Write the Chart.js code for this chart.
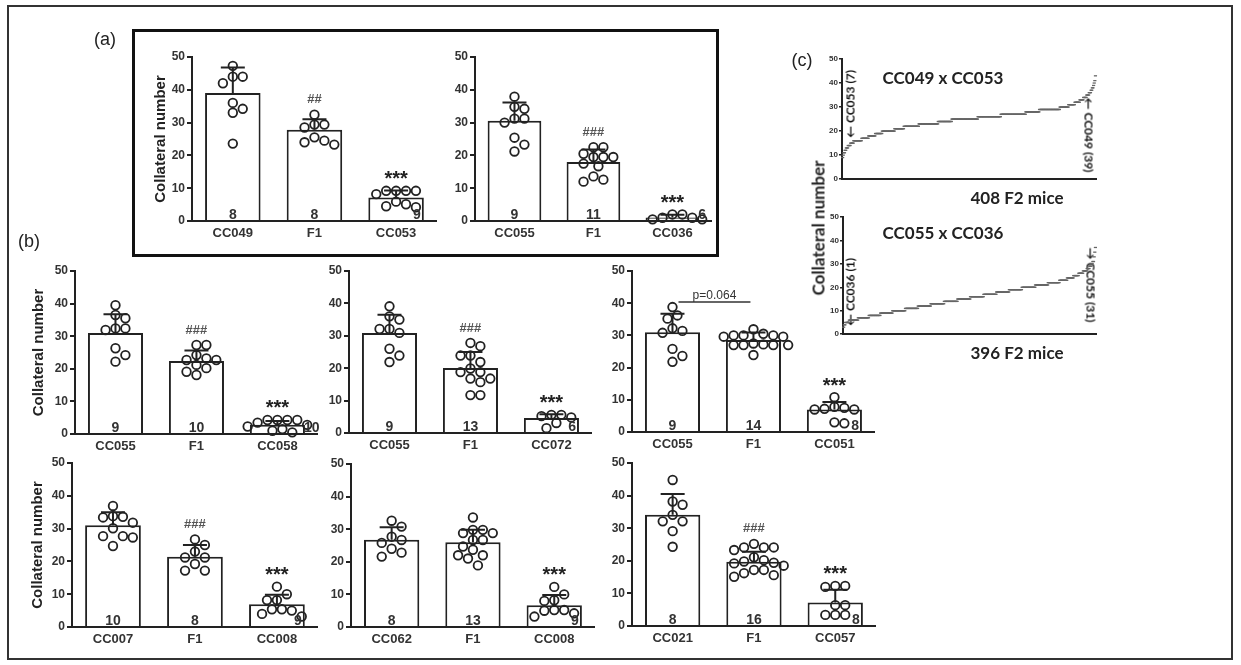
<!DOCTYPE html>
<html>
<head>
<meta charset="utf-8">
<title>Collateral number</title>
<script src="https://cdn.jsdelivr.net/npm/chart.js@4.4.1/dist/chart.umd.min.js"></script>
<style>
  html, body { margin: 0; padding: 0; background: #fff; }
  body { width: 1241px; height: 665px; position: relative; overflow: hidden; font-family: 'Liberation Sans', Arial, sans-serif; }
  .frame { position: absolute; left: 7px; top: 5px; width: 1226px; height: 655px; border: 2px solid #333; box-sizing: border-box; }
  .boxA { position: absolute; left: 132px; top: 29px; width: 587px; height: 228px; border: 3px solid #111; box-sizing: border-box; }
  .txt { position: absolute; white-space: nowrap; color: #222; transform: translate(-50%, -50%); will-change: transform; }
  .panel { font-size: 18px; }
  .calibri { font-family: Lato, 'Open Sans', sans-serif; font-weight: bold; }
</style>
</head>
<body>
<div class="frame"></div>
<div class="boxA"></div>

<div class="txt panel" style="left:105px;top:39px">(a)</div>
<div class="txt panel" style="left:29px;top:241px">(b)</div>
<div class="txt panel" style="left:802px;top:60px">(c)</div>

<div class="txt calibri" style="left:943px;top:77px;font-size:17px">CC049 x CC053</div>
<div class="txt calibri" style="left:1017px;top:197px;font-size:17px">408 F2 mice</div>
<div class="txt calibri" style="left:943px;top:232px;font-size:17px">CC055 x CC036</div>
<div class="txt calibri" style="left:1017px;top:352px;font-size:17px">396 F2 mice</div>
<div class="txt calibri" style="left:818px;top:228px;font-size:17px;transform:translate(-50%,-50%) rotate(-90deg)">Collateral number</div>
<div class="txt calibri" style="left:850px;top:104px;font-size:12px;color:#111;transform:translate(-50%,-50%) rotate(-90deg)">&larr; CC053 (7)</div>
<div class="txt calibri" style="left:1089px;top:135px;font-size:12px;color:#111;transform:translate(-50%,-50%) rotate(90deg)">&larr; CC049 (39)</div>
<div class="txt calibri" style="left:850px;top:292px;font-size:12px;color:#111;transform:translate(-50%,-50%) rotate(-90deg)">&larr; CC036 (1)</div>
<div class="txt calibri" style="left:1091px;top:285px;font-size:12px;color:#111;transform:translate(-50%,-50%) rotate(90deg)">&rarr; CC055 (31)</div>

<script>
// ---- (a) CC049 x CC053 parents and F1 ----
const a1Labels = ['CC049', 'F1', 'CC053'];
const a1Means = [39, 27.8, 7.2];
const a1SdTop = [46.8, 31, 9.3];
const a1N = [8, 8, 9];
const a1Marks = ['', '##', '***'];
const a1Points = [
  [47.3, 44, 44, 42, 36, 34.2, 33, 23.6],
  [32.4, 29.4, 28.5, 29.4, 24.5, 23.3, 24, 25.5],
  [9.2, 9.2, 8.2, 9.2, 9.2, 5.9, 4.2, 4.5, 5.1]
];

// ---- (a) CC055 x CC036 ----
const a2Labels = ['CC055', 'F1', 'CC036'];
const a2Means = [30.6, 18, 1.1];
const a2SdTop = [36.1, 21.8, 1.9];
const a2N = [9, 11, 6];
const a2Marks = ['', '###', '***'];
const a2Points = [
  [37.9, 34.8, 34.2, 31.2, 30, 31.2, 25.4, 23.3, 21.2],
  [22.5, 22.5, 20.5, 19.5, 19.5, 19.5, 17.5, 16.7, 13.6, 12, 12.6],
  [2, 1, 0.5, 2, 0.5, 1]
];

// ---- (b) top row ----
const b1Labels = ['CC055', 'F1', 'CC058'];
const b1Means = [31, 22.4, 2.8];
const b1SdTop = [36.7, 25.6, 4];
const b1N = [9, 10, 10];
const b1Marks = ['', '###', '***'];
const b1Points = [
  [39.5, 36.5, 35.5, 32.4, 31.9, 32.4, 26.3, 24.2, 22.2],
  [27.3, 27.3, 24.2, 22.7, 22.7, 23.2, 21.2, 20.2, 19.1, 18.1],
  [4.3, 4.3, 4.3, 4.3, 3.5, 2.8, 2.3, 1.5, 1, 0.5]
];

const b2Labels = ['CC055', 'F1', 'CC072'];
const b2Means = [30.9, 20.1, 4.6];
const b2SdTop = [36.5, 25, 5.8];
const b2N = [9, 13, 6];
const b2Marks = ['', '###', '***'];
const b2Points = [
  [39.1, 36, 35, 32.1, 30.9, 32.1, 26, 23.9, 21.9],
  [27.8, 26.8, 23.9, 23.9, 21.9, 19.9, 18.8, 18.8, 16.8, 15.7, 16.8, 11.7, 11.7],
  [5.6, 5.6, 5.2, 4.8, 3.1, 1.5]
];

const b3Labels = ['CC055', 'F1', 'CC051'];
const b3Means = [31, 28.6, 7];
const b3SdTop = [36.7, 30.9, 9.3];
const b3N = [9, 14, 8];
const b3Marks = ['', '', '***'];
const b3Points = [
  [38.8, 36.2, 35.2, 32.2, 31.4, 30.8, 25.8, 23.6, 21.8],
  [31.9, 30.5, 30, 29.6, 30, 29.6, 30, 27, 27, 27.5, 27, 27, 27.2, 23.9],
  [10.8, 7.2, 7, 7, 7.5, 7.8, 3, 2.7]
];
const b3Compare = [0, 1];
const b3CompareText = 'p=0.064';

// ---- (b) bottom row ----
const b4Labels = ['CC007', 'F1', 'CC008'];
const b4Means = [31, 21.4, 6.9];
const b4SdTop = [35, 25, 9.8];
const b4N = [10, 8, 9];
const b4Marks = ['', '###', '***'];
const b4Points = [
  [36.9, 33.8, 33.6, 33.4, 31.8, 30.1, 27.7, 27.3, 27.7, 24.7],
  [26.7, 25, 23, 21.2, 21.2, 19.2, 17.2, 17.2],
  [12.3, 10, 8.2, 8.2, 5.4, 5, 5.4, 3.2, 4]
];

const b5Labels = ['CC062', 'F1', 'CC008'];
const b5Means = [26.8, 26, 6.7];
const b5SdTop = [30.6, 29.8, 9.8];
const b5N = [8, 13, 9];
const b5Marks = ['', '', '***'];
const b5Points = [
  [32.6, 30.8, 27.7, 26.7, 25.8, 24, 22.8, 21.6],
  [33.6, 29.8, 28.8, 28.8, 29.8, 26.7, 26.7, 24.7, 23.7, 22, 21, 22, 18.9],
  [12.3, 10, 8.2, 8, 5.2, 5, 5.2, 3.2, 4.2]
];

const b6Labels = ['CC021', 'F1', 'CC057'];
const b6Means = [34.1, 19.7, 7.2];
const b6SdTop = [40.5, 22.8, 11.1];
const b6N = [8, 16, 8];
const b6Marks = ['', '###', '***'];
const b6Points = [
  [44.8, 38.2, 37.2, 34.1, 32.1, 32.1, 29.1, 24.3],
  [24.1, 24.1, 25.2, 24.1, 23.3, 20.2, 19.4, 19.2, 21.1, 18.5, 17.2, 16.2, 15.1, 15.6, 17.2, 19.8],
  [12.3, 12, 12.3, 6.4, 6.4, 3.4, 3.4, 3.4]
];

// ---- (c) F2 mice, sorted: collateral level and number of mice at it ----
const c1Levels = [9, 10, 11, 12, 13, 14, 15, 16, 17, 18, 19, 20, 21, 22, 23, 24, 25, 26, 27, 28, 29, 30, 31, 32, 33, 34, 35, 36, 37, 38, 39, 40, 41, 43];
const c1Counts = [1, 1, 2, 2, 3, 4, 5, 13, 11, 11, 11, 20, 15, 24, 31, 22, 42, 37, 40, 22, 33, 14, 10, 8, 6, 5, 4, 3, 2, 2, 1, 1, 1, 1];
const c2Levels = [3, 4, 5, 6, 7, 8, 9, 10, 11, 12, 13, 14, 15, 16, 17, 18, 19, 20, 21, 22, 23, 24, 25, 26, 27, 28, 29, 30, 31, 33, 35, 37];
const c2Counts = [1, 2, 6, 14, 17, 18, 19, 20, 20, 20, 21, 21, 20, 21, 20, 20, 20, 21, 20, 18, 12, 10, 8, 7, 6, 4, 3, 2, 2, 1, 1, 1];

// where each plot sits on the page (axis origin, axis end, y at 50 and at 0)
const frames = {
  a1: { axisX: 192, axisEnd: 439, y50: 57, y0: 221, titleX: 161 },
  a2: { axisX: 475, axisEnd: 714, y50: 57, y0: 221 },
  b1: { axisX: 75, axisEnd: 320, y50: 271, y0: 434, titleX: 39 },
  b2: { axisX: 349, axisEnd: 594, y50: 271, y0: 433 },
  b3: { axisX: 632, axisEnd: 877, y50: 271, y0: 432 },
  b4: { axisX: 72, axisEnd: 320, y50: 463, y0: 627, titleX: 38 },
  b5: { axisX: 351, axisEnd: 597, y50: 464, y0: 627 },
  b6: { axisX: 632, axisEnd: 878, y50: 463, y0: 626 },
  c1: { axisX: 842, axisEnd: 1100, y50: 59, y0: 182 },
  c2: { axisX: 843, axisEnd: 1100, y50: 217, y0: 337 }
};

const FONT = "'Liberation Sans', Arial, Helvetica, sans-serif";
Chart.defaults.font.family = FONT;
Chart.defaults.color = '#333';

const extras = {};

function addCanvas(id, left, top, w, h) {
  const c = document.createElement('canvas');
  c.id = id;
  c.width = w;
  c.height = h;
  c.style.cssText = `position:absolute;left:${left}px;top:${top}px;width:${w}px;height:${h}px`;
  document.body.appendChild(c);
  return c;
}

// spread dots sideways so they do not overlap (pixel space)
function swarm(vals, pxPerUnit, step, minDist) {
  const placed = [];
  const off = new Array(vals.length).fill(0);
  const order = vals.map((v, i) => i).sort((a, b) => vals[b] - vals[a]);
  order.forEach(i => {
    const py = vals[i] * pxPerUnit;
    for (let k = 0; k < 30; k++) {
      const dx = k === 0 ? 0 : (k % 2 ? 1 : -1) * Math.ceil(k / 2) * step;
      if (placed.every(p => Math.hypot(p.x - dx, p.y - py) >= minDist)) {
        off[i] = dx;
        placed.push({ x: dx, y: py });
        break;
      }
    }
  });
  return off;
}

// error bars, n labels, significance marks
const barExtras = {
  id: 'barExtras',
  afterDatasetDraw(chart, args) {
    const g = extras[chart.canvas.id];
    if (!g || args.index !== 0) return;
    const { ctx } = chart;
    const x = chart.scales.x, y = chart.scales.y;
    ctx.save();
    ctx.strokeStyle = '#222';
    ctx.lineWidth = 2;
    g.sdTop.forEach((t, i) => {
      const cx = x.getPixelForValue(i);
      const yt = y.getPixelForValue(t);
      ctx.beginPath();
      ctx.moveTo(cx, y.getPixelForValue(g.means[i]));
      ctx.lineTo(cx, yt);
      ctx.moveTo(cx - 12, yt);
      ctx.lineTo(cx + 12, yt);
      ctx.stroke();
    });
    ctx.restore();
  },
  afterDatasetsDraw(chart) {
    const g = extras[chart.canvas.id];
    if (!g) return;
    const { ctx } = chart;
    const x = chart.scales.x, y = chart.scales.y;
    const bars = chart.getDatasetMeta(0).data;
    const y0 = y.getPixelForValue(0);
    ctx.save();
    ctx.fillStyle = '#333';
    ctx.font = 'bold 14px ' + FONT;
    ctx.textBaseline = 'alphabetic';
    g.n.forEach((n, i) => {
      const b = bars[i];
      const right = b.x + b.width / 2;
      if (g.means[i] < 4) {
        ctx.textAlign = 'left';
        ctx.fillText(n, right - 1, y0 - 2);
      } else if (g.means[i] < 12) {
        ctx.textAlign = 'right';
        ctx.fillText(n, right - 3, y0 - 2);
      } else {
        ctx.textAlign = 'center';
        ctx.fillText(n, b.x, y0 - 2);
      }
    });
    ctx.textAlign = 'center';
    ctx.textBaseline = 'middle';
    g.marks.forEach((m, i) => {
      if (!m) return;
      const top = y.getPixelForValue(Math.max(...g.points[i], g.sdTop[i])) - 15;
      if (m[0] === '*') {
        ctx.font = 'bold 20px ' + FONT;
        ctx.fillStyle = '#222';
        ctx.fillText(m, x.getPixelForValue(i), top + 4);
      } else {
        ctx.font = 'bold 13px ' + FONT;
        ctx.fillStyle = '#555';
        ctx.fillText(m, x.getPixelForValue(i), top);
      }
    });
    if (g.compare) {
      const [i0, i1] = g.compare;
      const ly = Math.min(...g.compare.map(i => y.getPixelForValue(Math.max(...g.points[i])))) - 5;
      const xa = x.getPixelForValue(i0) + 6, xb = x.getPixelForValue(i1) - 3;
      ctx.strokeStyle = '#333';
      ctx.lineWidth = 1.5;
      ctx.beginPath();
      ctx.moveTo(xa, ly);
      ctx.lineTo(xb, ly);
      ctx.stroke();
      ctx.font = '12px ' + FONT;
      ctx.fillStyle = '#333';
      ctx.textBaseline = 'alphabetic';
      ctx.fillText(g.compareText, (xa + xb) / 2, ly - 3);
    }
    ctx.restore();
  }
};

function makeBarChart(id, labels, means, sdTop, points, n, marks, compare, compareText) {
  const f = frames[id];
  const padTop = 10, xH = 24;
  const left = f.titleX ? f.titleX - 13 : f.axisX - 34;
  const top = f.y50 - padTop;
  const w = f.axisEnd - left + 4;
  const h = f.y0 - f.y50 + padTop + xH;
  const cv = addCanvas(id, left, top, w, h);

  const pxPerUnit = (f.y0 - f.y50) / 50;
  const catW = (f.axisEnd - f.axisX) / 3;
  const dots = [];
  points.forEach((vals, gi) => {
    const off = swarm(vals, pxPerUnit, 5, 9.5);
    vals.forEach((v, k) => dots.push({ x: gi + off[k] / catW, y: v }));
  });
  extras[id] = { means, sdTop, points, n, marks, compare, compareText };

  new Chart(cv, {
    type: 'bar',
    data: {
      labels: labels,
      datasets: [
        {
          type: 'bar',
          data: means,
          xAxisID: 'x',
          yAxisID: 'y',
          order: 1,
          grouped: false,
          backgroundColor: '#fff',
          borderColor: '#222',
          borderWidth: 2,
          categoryPercentage: 1,
          barPercentage: 0.68
        },
        {
          type: 'scatter',
          data: dots,
          xAxisID: 'xs',
          yAxisID: 'y',
          order: 0,
          pointStyle: 'circle',
          pointRadius: 4.3,
          borderWidth: 1.8,
          borderColor: '#222',
          backgroundColor: 'rgba(255,255,255,0)',
          clip: false
        }
      ]
    },
    options: {
      responsive: false,
      devicePixelRatio: 1,
      animation: false,
      events: [],
      layout: { padding: { top: padTop, right: 4, left: 0, bottom: 0 } },
      plugins: { legend: { display: false }, tooltip: { enabled: false } },
      scales: {
        x: {
          type: 'category',
          offset: true,
          grid: { display: false, drawTicks: false },
          border: { color: '#222', width: 2 },
          ticks: { color: '#333', font: { size: 13, weight: 'bold' }, padding: 5, maxRotation: 0, autoSkip: false },
          afterFit: s => { s.height = xH; }
        },
        xs: {
          type: 'linear',
          display: false,
          offset: false,
          grid: { offset: false },
          min: -0.5,
          max: 2.5
        },
        y: {
          min: 0,
          max: 50,
          ticks: { stepSize: 10, color: '#333', font: { size: 12, weight: 'bold' }, padding: 2 },
          grid: { drawOnChartArea: false, drawTicks: true, tickLength: 5, color: '#222', lineWidth: 2 },
          border: { color: '#222', width: 2 },
          title: {
            display: !!f.titleX,
            text: 'Collateral number',
            color: '#222',
            font: { size: 15, weight: 'bold' },
            padding: { top: 4, bottom: 0 }
          },
          afterFit: s => { s.width = f.axisX - left; }
        }
      }
    },
    plugins: [barExtras]
  });
}

function makeRankChart(id, levels, counts) {
  const f = frames[id];
  const pts = [];
  levels.forEach((v, i) => {
    for (let k = 0; k < counts[i]; k++) pts.push({ x: pts.length + 1, y: v });
  });
  const padTop = 6, xH = 3;
  const left = f.axisX - 16;
  const w = f.axisEnd - left + 2;
  const h = f.y0 - f.y50 + padTop + xH;
  const cv = addCanvas(id, left, f.y50 - padTop, w, h);
  new Chart(cv, {
    type: 'scatter',
    data: {
      datasets: [{
        data: pts,
        pointStyle: 'line',
        pointRadius: 1.6,
        borderWidth: 1.3,
        borderColor: '#666',
        clip: false
      }]
    },
    options: {
      responsive: false,
      devicePixelRatio: 1,
      animation: false,
      events: [],
      layout: { padding: { top: padTop, right: 2, left: 0, bottom: 0 } },
      plugins: { legend: { display: false }, tooltip: { enabled: false } },
      scales: {
        x: {
          type: 'linear',
          min: 0,
          max: pts.length + 2,
          ticks: { display: false },
          grid: { display: false, drawTicks: false },
          border: { color: '#222', width: 2 },
          afterFit: s => { s.height = xH; }
        },
        y: {
          min: 0,
          max: 50,
          ticks: { stepSize: 10, color: '#333', font: { size: 8, weight: 'bold' }, padding: 1 },
          grid: { drawOnChartArea: false, drawTicks: true, tickLength: 3, color: '#222', lineWidth: 1.5 },
          border: { color: '#222', width: 2 },
          afterFit: s => { s.width = f.axisX - left; }
        }
      }
    }
  });
}

makeBarChart('a1', a1Labels, a1Means, a1SdTop, a1Points, a1N, a1Marks);
makeBarChart('a2', a2Labels, a2Means, a2SdTop, a2Points, a2N, a2Marks);
makeBarChart('b1', b1Labels, b1Means, b1SdTop, b1Points, b1N, b1Marks);
makeBarChart('b2', b2Labels, b2Means, b2SdTop, b2Points, b2N, b2Marks);
makeBarChart('b3', b3Labels, b3Means, b3SdTop, b3Points, b3N, b3Marks, b3Compare, b3CompareText);
makeBarChart('b4', b4Labels, b4Means, b4SdTop, b4Points, b4N, b4Marks);
makeBarChart('b5', b5Labels, b5Means, b5SdTop, b5Points, b5N, b5Marks);
makeBarChart('b6', b6Labels, b6Means, b6SdTop, b6Points, b6N, b6Marks);
makeRankChart('c1', c1Levels, c1Counts);
makeRankChart('c2', c2Levels, c2Counts);
</script>
</body>
</html>
